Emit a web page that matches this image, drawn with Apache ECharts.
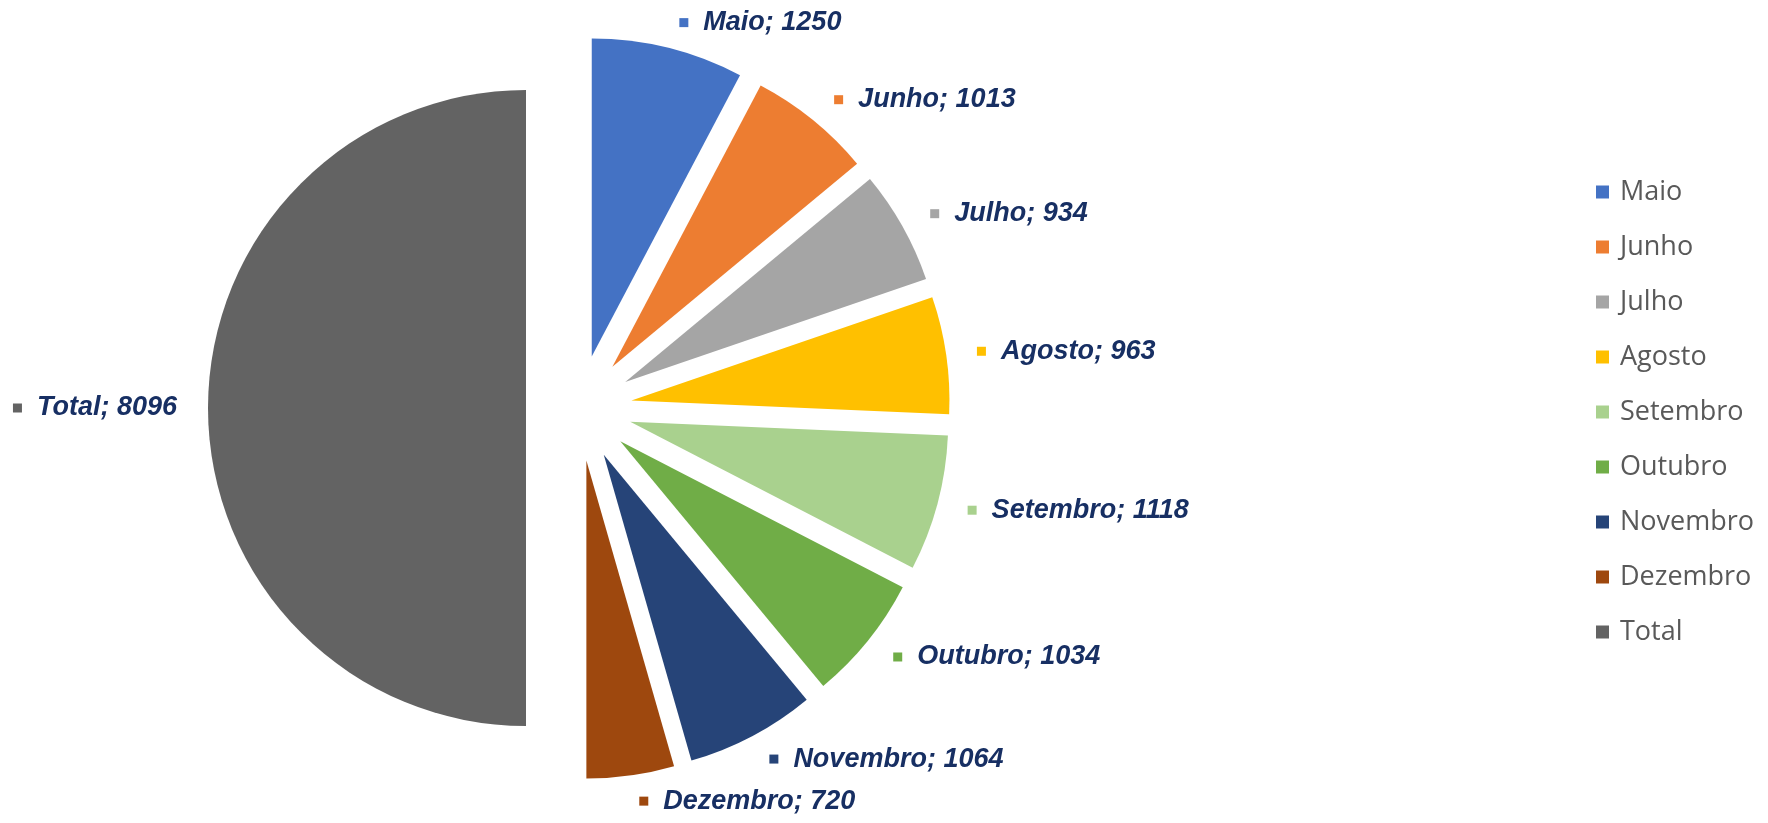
<!DOCTYPE html>
<html>
<head>
<meta charset="utf-8">
<script src="https://cdn.jsdelivr.net/npm/echarts@6/dist/echarts.min.js"></script>
<style>
  html, body { margin: 0; padding: 0; background: #fff; }
  #chart { width: 1768px; height: 823px; }
</style>
</head>
<body>
<div id="chart"></div>
<script>
const months = ['Maio', 'Junho', 'Julho', 'Agosto', 'Setembro', 'Outubro', 'Novembro', 'Dezembro', 'Total'];
const values = [1250, 1013, 934, 963, 1118, 1034, 1064, 720, 8096];
const colors = ['#4472C4', '#ED7D31', '#A5A5A5', '#FFC000', '#A9D18E', '#70AD47', '#264478', '#9E480E', '#636363'];

const labelColor = '#172f63';

const chart = echarts.init(document.getElementById('chart'));

const pieData = months.map((name, i) => ({
  name: name,
  value: values[i],
  selected: true,
  itemStyle: { color: colors[i] },
  label: {
    rich: {
      sq: { width: 9, height: 9, backgroundColor: colors[i] },
      t: {
        fontFamily: '"Liberation Sans", Arial, sans-serif',
        fontWeight: 'bold',
        fontStyle: 'italic',
        fontSize: 27,
        color: labelColor,
        padding: [0, 0, 0, 15]
      }
    }
  }
}));

const option = {
  backgroundColor: '#fff',
  animation: false,
  legend: {
    orient: 'vertical',
    left: 1591,
    top: 173,
    icon: 'rect',
    itemWidth: 13,
    itemHeight: 13,
    itemGap: 27,
    data: months,
    textStyle: {
      fontFamily: '"Open Sans", sans-serif',
      fontSize: 27,
      lineHeight: 28,
      color: '#595959',
      padding: [0, 0, 0, 6]
    }
  },
  series: [
    {
      type: 'pie',
      center: [579, 408],
      radius: 318,
      startAngle: 90,
      clockwise: true,
      selectedMode: 'multiple',
      selectedOffset: 53,
      avoidLabelOverlap: false,
      emphasis: { scale: false },
      label: {
        show: true,
        position: 'outside',
        formatter: '{sq|}{t|{b}; {c}}'
      },
      labelLine: { show: false, length: 26, length2: 0 },
      data: pieData
    }
  ]
};

chart.setOption(option);
</script>
</body>
</html>
